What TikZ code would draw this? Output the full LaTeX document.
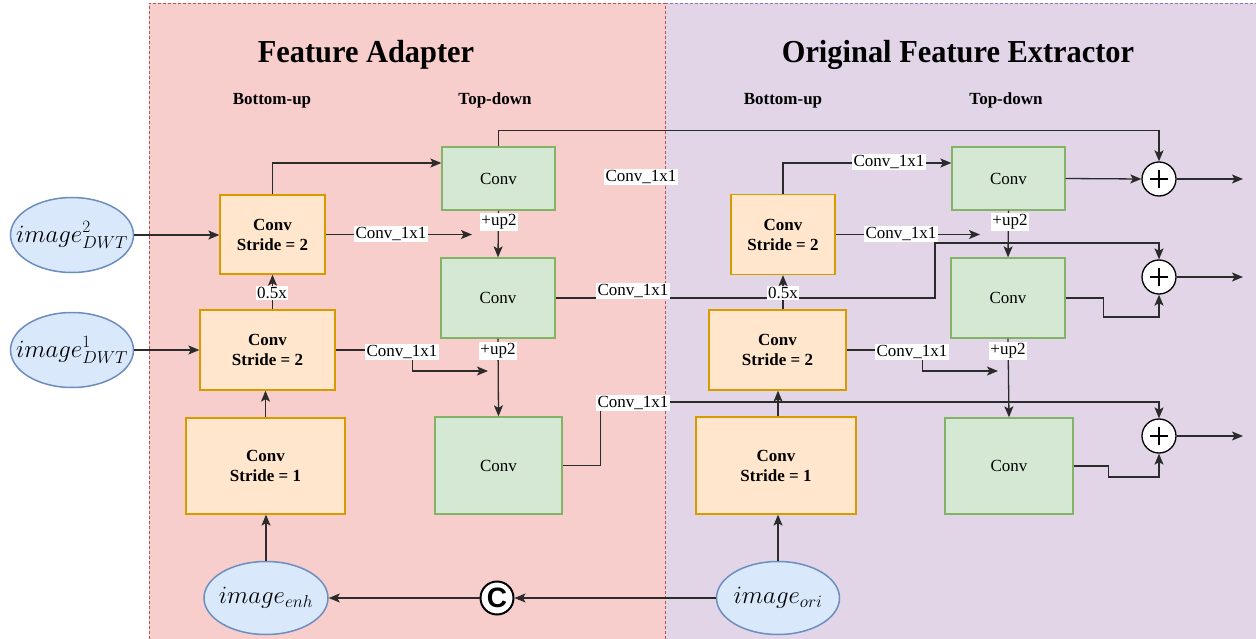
\documentclass[tikz,border=0pt]{standalone}
\usepackage{fontspec}
\usepackage{graphicx}
\setmainfont{Liberation Serif}
\newfontfamily\catfont{Liberation Sans}
\usetikzlibrary{arrows.meta,shapes.geometric}

\definecolor{pinkbg}{HTML}{F8CECC}
\definecolor{pinkline}{HTML}{B85450}
\definecolor{purplebg}{HTML}{E1D5E7}
\definecolor{purpleline}{HTML}{9673A6}
\definecolor{orangefill}{HTML}{FFE6CC}
\definecolor{orangeline}{HTML}{D79B00}
\definecolor{greenfill}{HTML}{D5E8D4}
\definecolor{greenline}{HTML}{82B366}
\definecolor{bluefill}{HTML}{DAE8FC}
\definecolor{blueline}{HTML}{6C8EBF}
\definecolor{linecol}{HTML}{2B2B2B}

\begin{document}
\begin{tikzpicture}[x=1pt,y=-1pt,
  orangebox/.style={draw=orangeline, fill=orangefill, line width=1.3pt, inner sep=0pt,
    align=center, font=\bfseries\fontsize{17}{20}\selectfont},
  greenbox/.style={draw=greenline, fill=greenfill, line width=1.3pt, inner sep=0pt,
    font=\fontsize{17}{20}\selectfont},
  imgnode/.style={ellipse, draw=blueline, fill=bluefill, line width=1.5pt,
    inner xsep=-20pt, inner ysep=0pt, font=\fontsize{25}{30}\selectfont},
  lbl/.style={fill=white, inner sep=1.2pt, font=\fontsize{17}{20}\selectfont},
  hdr/.style={anchor=base, font=\bfseries\fontsize{17}{20}\selectfont},
  ttl/.style={anchor=base, font=\bfseries\fontsize{32}{36}\selectfont},
  arr/.style={draw=linecol, line width=1.3pt, -{Stealth[length=11pt,width=9pt,inset=2.5pt]}},
  sumnode/.style={circle, draw=black, fill=white, line width=1.3pt, minimum size=34pt, inner sep=0pt,
    path picture={
      \draw[line width=2.6pt] ([xshift=-9pt]path picture bounding box.center) -- ([xshift=9pt]path picture bounding box.center);
      \draw[line width=2.6pt] ([yshift=-9pt]path picture bounding box.center) -- ([yshift=9pt]path picture bounding box.center);}},
  catnode/.style={circle, draw=black, fill=white, line width=2pt, minimum size=33pt, inner sep=0pt,
    font=\catfont\bfseries\fontsize{28}{28}\selectfont}
]
\useasboundingbox (0,0) rectangle (1256,639);

% panels
\fill[purplebg] (665,3) rectangle (1256,639);
\draw[purpleline, line width=0.8pt, dash pattern=on 3pt off 2pt] (665,3) -- (1256,3);
\fill[pinkbg] (149,3) rectangle (665,639);
\draw[pinkline, line width=0.8pt, dash pattern=on 3pt off 2pt] (149,639) -- (149,3) -- (665,3) -- (665,639);

% titles
\node[ttl] (tA) at (366,63) {\scalebox{0.95}[1]{Feature Adapter}};
\node[ttl] (tB) at (958,63) {\scalebox{0.95}[1]{Original Feature Extractor}};
\node[hdr] (hA1) at (272,105) {Bottom-up};
\node[hdr] (hA2) at (495,105) {Top-down};
\node[hdr] (hB1) at (783,105) {Bottom-up};
\node[hdr] (hB2) at (1006,105) {Top-down};

% inputs
\node[imgnode, minimum width=123pt, minimum height=75pt] (eD2) at (72,235) {$image^2_{DWT}$};
\node[imgnode, minimum width=123pt, minimum height=75pt] (eD1) at (72,350) {$image^1_{DWT}$};
\node[imgnode, minimum width=124pt, minimum height=73pt] (eEnh) at (266,598) {$image_{enh}$};
\node[imgnode, minimum width=123pt, minimum height=73pt] (eOri) at (778,598) {$image_{ori}$};
\node[catnode] (cat) at (497,598) {C};

% feature adapter: bottom-up
\node[orangebox, minimum width=105pt, minimum height=79pt] (oA1) at (272.5,234.5) {Conv\\Stride = 2};
\node[orangebox, minimum width=135pt, minimum height=80pt] (oA2) at (267.5,350) {Conv\\Stride = 2};
\node[orangebox, minimum width=159pt, minimum height=96pt] (oA3) at (265.5,466) {Conv\\Stride = 1};
% feature adapter: top-down
\node[greenbox, minimum width=113pt, minimum height=63pt] (gA1) at (498.5,178.5) {Conv};
\node[greenbox, minimum width=114pt, minimum height=80pt] (gA2) at (498,298) {Conv};
\node[greenbox, minimum width=127pt, minimum height=97pt] (gA3) at (498.5,465.5) {Conv};

% original extractor: bottom-up
\node[orangebox, minimum width=104pt, minimum height=80pt] (oB1) at (783,234.5) {Conv\\Stride = 2};
\node[orangebox, minimum width=137pt, minimum height=80pt] (oB2) at (777.5,350) {Conv\\Stride = 2};
\node[orangebox, minimum width=160pt, minimum height=97pt] (oB3) at (776,465.5) {Conv\\Stride = 1};
% original extractor: top-down
\node[greenbox, minimum width=113pt, minimum height=63pt] (gB1) at (1008.5,178.5) {Conv};
\node[greenbox, minimum width=114pt, minimum height=80pt] (gB2) at (1008,298) {Conv};
\node[greenbox, minimum width=128pt, minimum height=96pt] (gB3) at (1009,466) {Conv};

% sums
\node[sumnode] (pB1) at (1159,179) {};
\node[sumnode] (pB2) at (1159,277) {};
\node[sumnode] (pB3) at (1159,436) {};

% free ends and bends
\coordinate (fA1) at (472,234.5);
\coordinate (fA2) at (488,371);
\coordinate (fB1) at (980,234.5);
\coordinate (fB2) at (998,371);
\coordinate (k1) at (935,243);
\coordinate (k2) at (1159,402);
\coordinate (k3) at (1159,317);
\coordinate (k4) at (1159,477);
\coordinate (out1) at (1243,179);
\coordinate (out2) at (1243,277);
\coordinate (out3) at (1243,436);

% connectors: inputs
\draw[arr] (eD2.east) -- (eD2.east -| oA1.west);
\draw[arr] (eD1.east) -- (eD1.east -| oA2.west);
\draw[arr] (eOri.west) -- (cat.east);
\draw[arr] (cat.west) -- (eEnh.east);
\draw[arr] (eEnh.north) -- (eEnh.north |- oA3.south);
\draw[arr] (eOri.north) -- (eOri.north |- oB3.south);

% connectors: feature adapter
\draw[arr] (oA3.north) -- (oA3.north |- oA2.south);
\draw[arr] (oA2.north -| oA1.south) -- (oA1.south);
\draw[arr] (oA1.north) |- ([yshift=15.5pt]gA1.west);
\draw[arr] (oA1.east) -- (fA1);
\draw[arr] (oA2.east) -- ++(77,0) |- (fA2);
\draw[arr] (gA1.south) -- (gA2.north);
\draw[arr] (gA2.south) -- (gA3.north);
\draw[arr] (gA1.north) -- ++(0,-16) -| (pB1.north);
\draw[arr] (gA2.east) -- (gA2.east -| k1) -- (k1) -- (pB2.north |- k1) -- (pB2.north);
\draw[arr] (gA3.east) -- ++(38,0) |- (k2) -- (pB3.north);

% connectors: original extractor
\draw[arr] ([xshift=2pt]oB3.north) -- ([xshift=2pt]oB3.north |- oB2.south);
\draw[arr] (oB2.north -| oB1.south) -- (oB1.south);
\draw[arr] (oB1.north) |- ([yshift=15.5pt]gB1.west);
\draw[arr] (oB1.east) -- (fB1);
\draw[arr] (oB2.east) -- ++(76,0) |- (fB2);
\draw[arr] (gB1.south) -- (gB2.north);
\draw[arr] (gB2.south) -- (gB3.north);
\draw[arr] (gB1.east) -- (pB1.west);
\draw[arr] (gB2.east) -- ++(38,0) |- (k3) -- (pB2.south);
\draw[arr] (gB3.east) -- ++(35,0) |- (k4) -- (pB3.south);
\draw[arr] (pB1.east) -- (out1);
\draw[arr] (pB2.east) -- (out2);
\draw[arr] (pB3.east) -- (out3);

% connector labels
\node[lbl] (lA1) at (391,234) {Conv\_1x1};
\node[lbl] (lA2) at (402,352) {Conv\_1x1};
\node[lbl] (lA3) at (633,291) {Conv\_1x1};
\node[lbl] (lA4) at (633,403) {Conv\_1x1};
\node[lbl] (lA5) at (641,177) {Conv\_1x1};
\node[lbl] (uA1) at (499,222) {+up2};
\node[lbl] (uA2) at (498,351) {+up2};
\node[lbl] (hA) at (272,293) {0.5x};
\node[lbl] (lB1) at (889,162) {Conv\_1x1};
\node[lbl] (lB2) at (901,234) {Conv\_1x1};
\node[lbl] (lB3) at (912,352) {Conv\_1x1};
\node[lbl] (uB1) at (1010,222) {+up2};
\node[lbl] (uB2) at (1008,351) {+up2};
\node[lbl] (hB) at (783,293) {0.5x};
\end{tikzpicture}
\end{document}
